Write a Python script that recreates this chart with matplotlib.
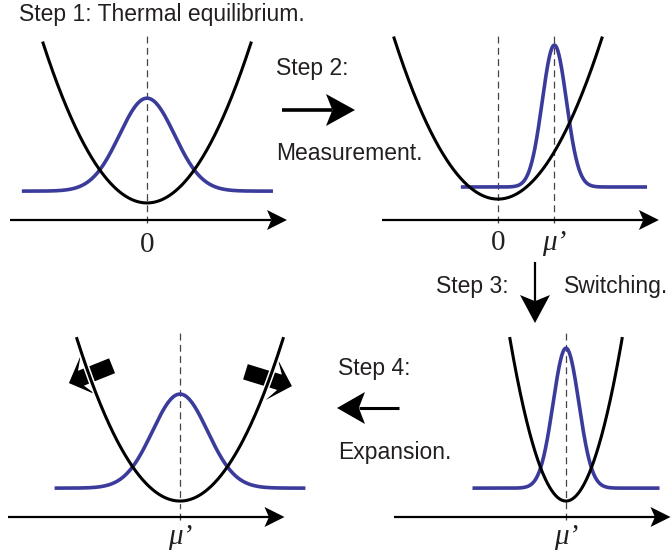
import numpy as np
import matplotlib.pyplot as plt
from matplotlib.patches import Polygon

W, H = 672, 560
S = 27.5          # pixels per data unit (data unit = thermal width)
BLUE = '#3b3b9b'
INK = '#231f20'

# ---- data, in units of the thermal width ----
mu_prime = 2.05
gauss_mu = [0.0, mu_prime, mu_prime, mu_prime]
gauss_sigma = [1.0, 0.44, 1.0, 0.47]
gauss_amp = [3.38, 5.16, 3.42, 5.09]
gauss_base = [1.05, 1.2, 1.05, 1.05]
gauss_lo = [-4.55, -1.35, -2.51, -1.35]
gauss_hi = [4.58, 5.42, 6.61, 5.45]

well_center = [0.0, 0.0, mu_prime, mu_prime]
well_k = [0.407, 0.41, 0.42, 1.42]
well_min = [0.62, 0.76, 0.58, 0.58]
well_half = [3.78, 3.78, 3.75, 2.04]

marks = [[0.0], [0.0, mu_prime], [mu_prime], [mu_prime]]
mark_labels = [['0'], ['0', 'μ’'], ['μ’'], ['μ’']]

# ---- layout (pixels) ----
origins = [(147, 220), (498, 220), (180 - mu_prime * S, 517), (566 - mu_prime * S, 517)]
axis_lo = [-4.98, -4.22, -4.22, -4.22]
axis_hi = [5.09, 5.85, 5.85, 5.85]
label_y = [-0.9, -0.85, -0.72, -0.72]
xmin, xmax, ymin, ymax = -5.5, 7.0, -1.6, 7.2


def stealth(ax, tail, tip, lw, hl, hw):
    # line with a concave-backed arrow head
    tail, tip = np.array(tail, float), np.array(tip, float)
    u = (tip - tail) / np.hypot(*(tip - tail))
    n = np.array([-u[1], u[0]])
    back = tip - u * hl
    notch = tip - u * hl * 0.78
    ax.plot([tail[0], notch[0]], [tail[1], notch[1]], color='k', lw=lw,
            solid_capstyle='butt', clip_on=False, zorder=5)
    ax.add_patch(Polygon([tip, back + n * hw, notch, back - n * hw], closed=True,
                         facecolor='k', edgecolor='none', clip_on=False, zorder=5))


def fat_arrow(ax, tail, tip, bw, hw, hl, join):
    # block arrow with swept-back head corners
    tail, tip = np.array(tail, float), np.array(tip, float)
    u = (tip - tail) / np.hypot(*(tip - tail))
    n = np.array([-u[1], u[0]])
    pts = [tip,
           tip - u * hl + n * hw,
           tip - u * join + n * bw,
           tail + n * bw,
           tail - n * bw,
           tip - u * join - n * bw,
           tip - u * hl - n * hw]
    ax.add_patch(Polygon(pts, closed=True, facecolor='k', edgecolor='none',
                         clip_on=False, zorder=2))


fig = plt.figure(figsize=(W / 100, H / 100), dpi=100)

panels = []
for i, (ox, oy) in enumerate(origins):
    rect = [(ox + xmin * S) / W, 1 - (oy - ymin * S) / H,
            (xmax - xmin) * S / W, (ymax - ymin) * S / H]
    ax = fig.add_axes(rect)
    ax.set_xlim(xmin, xmax)
    ax.set_ylim(ymin, ymax)
    ax.axis('off')
    panels.append(ax)

    # horizontal axis with arrow
    stealth(ax, (axis_lo[i], 0), (axis_hi[i], 0), 1.6, 20 / S, 10 / S)

    # dashed guide lines and labels
    for xm, lab in zip(marks[i], mark_labels[i]):
        ax.plot([xm, xm], [-0.1, 6.8], color='#444444', lw=0.9, dashes=(5.5, 3.5), zorder=1)
        ax.text(xm, label_y[i], lab, ha='center', va='center', fontsize=21,
                family='Liberation Serif', style='italic' if lab != '0' else 'normal',
                color=INK)

    # distribution
    xg = np.linspace(gauss_lo[i], gauss_hi[i], 500)
    yg = gauss_base[i] + gauss_amp[i] * np.exp(-(xg - gauss_mu[i]) ** 2 / (2 * gauss_sigma[i] ** 2))
    ax.plot(xg, yg, color=BLUE, lw=2.6, zorder=3, solid_capstyle='butt')

    # trapping potential
    xw = np.linspace(well_center[i] - well_half[i], well_center[i] + well_half[i], 500)
    yw = well_min[i] + well_k[i] * (xw - well_center[i]) ** 2
    if i == 2:
        ax.plot(xw, yw, color='white', lw=4.4, zorder=2.5)
    ax.plot(xw, yw, color='k', lw=2.2, zorder=4)

# expansion arrows in panel 3
ax3 = panels[2]
for tail, tip in [((-0.42, 5.5), (-1.99, 4.87)), ((4.43, 5.28), (6.12, 4.76))]:
    fat_arrow(ax3, tail, tip, 8 / S, 21 / S, 21 / S, 13 / S)

# ---- overlay for step texts and arrows (pixel coordinates) ----
ov = fig.add_axes([0, 0, 1, 1])
ov.set_xlim(0, W)
ov.set_ylim(H, 0)
ov.axis('off')

txt = dict(fontsize=16.5, family='Liberation Sans', color=INK, va='center')
ov.text(19, 14, 'Step 1: Thermal equilibrium.', ha='left', **txt)
ov.text(276, 68, 'Step 2:', ha='left', **txt)
ov.text(276, 153, 'Measurement.', ha='left', **txt)
ov.text(509, 286, 'Step 3:', ha='right', **txt)
ov.text(564, 286, 'Switching.', ha='left', **txt)
ov.text(338, 368, 'Step 4:', ha='left', **txt)
ov.text(338, 452, 'Expansion.', ha='left', **txt)

steps = [((282, 110), (355, 110), 2.6, 29, 16),
         ((535, 262), (535, 323), 1.6, 28, 15),
         ((399, 408), (337, 408), 2.2, 28, 16)]
for tail, tip, lw, hl, hw in steps:
    stealth(ov, tail, tip, lw, hl, hw)

fig.savefig('out.png', dpi=100)
